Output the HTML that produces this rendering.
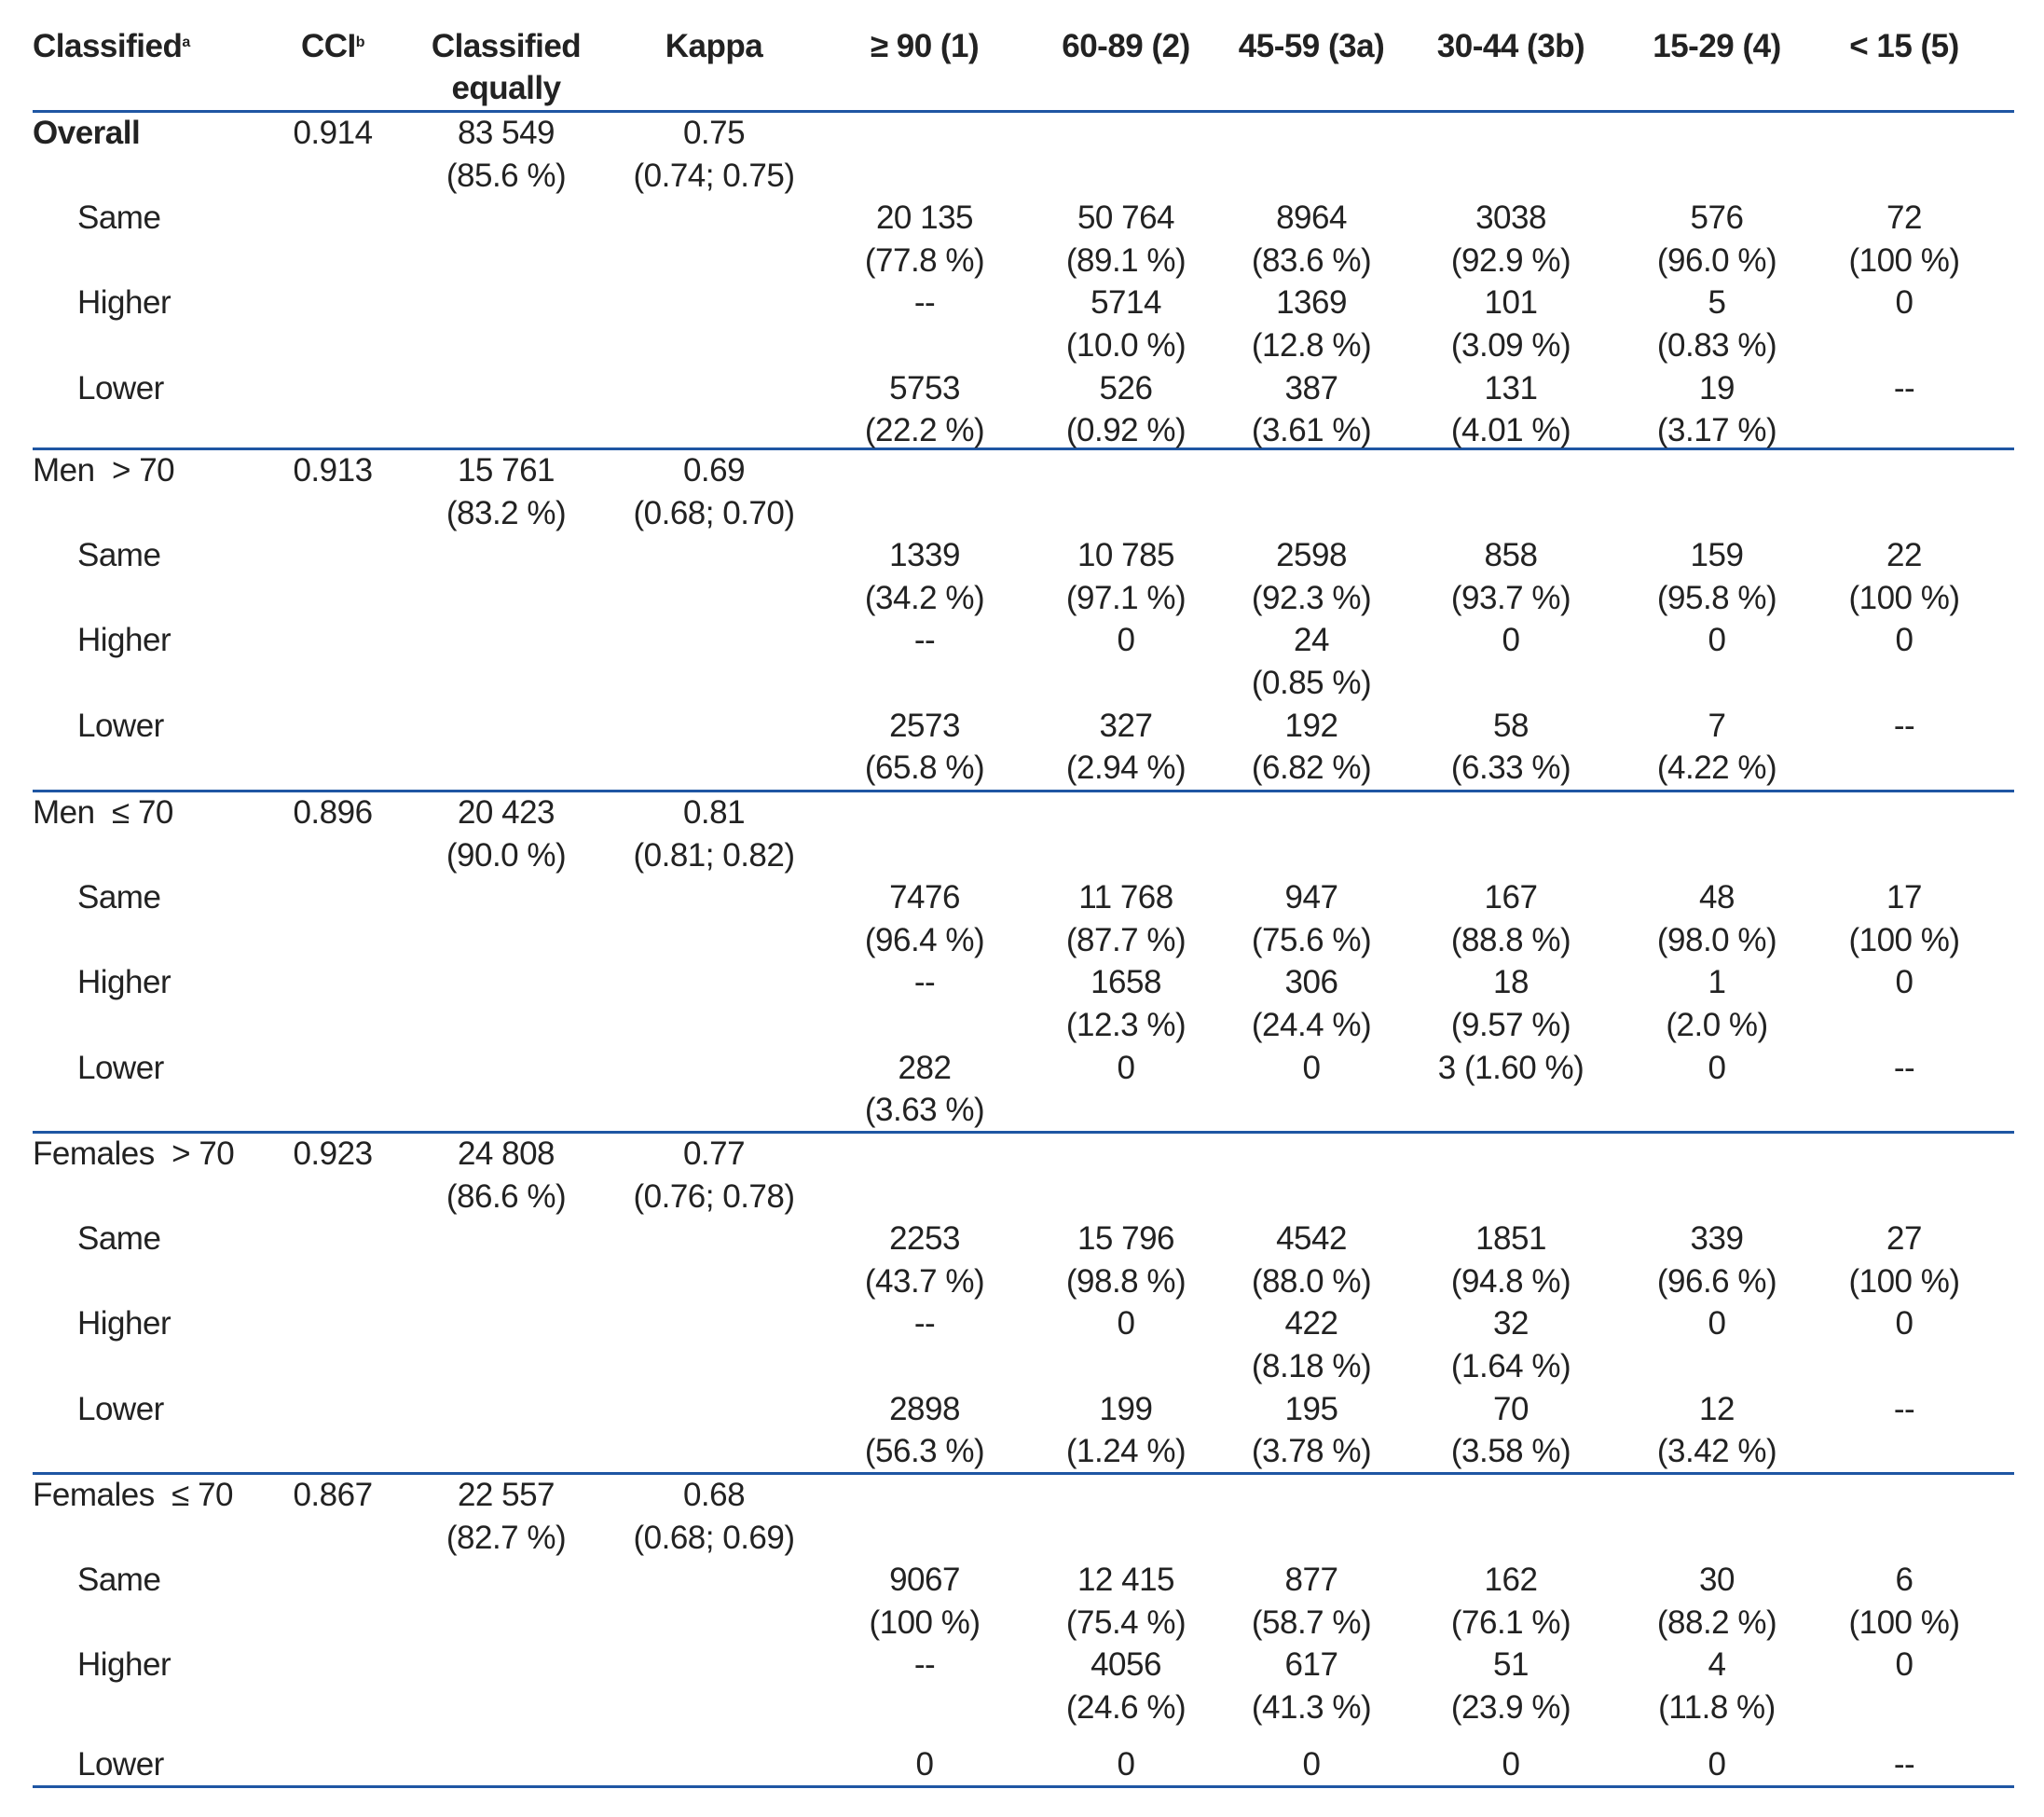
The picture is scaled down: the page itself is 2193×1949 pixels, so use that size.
<!DOCTYPE html>
<html><head><meta charset="utf-8">
<style>
html,body{margin:0;padding:0;background:#fff;}
#tbl{position:relative;width:2193px;height:1949px;overflow:hidden;font-family:"Liberation Sans",sans-serif;color:#222;}
.t{position:absolute;font-size:35px;line-height:40px;white-space:pre;transform:translate(-50%,-50%);letter-spacing:-0.5px;}
.l{position:absolute;font-size:35px;line-height:40px;white-space:pre;transform:translateY(-50%);letter-spacing:-0.5px;}
.b{font-weight:bold;}
.rule{position:absolute;left:35px;width:2126px;height:3px;background:#1f56a3;}
sup{font-size:16px;vertical-align:top;position:relative;top:-4px;}
</style></head><body>
<div id="tbl"></div>
<script>
const headers = ["CCI", "Classified|equally", "Kappa", "≥ 90 (1)", "60-89 (2)", "45-59 (3a)", "30-44 (3b)", "15-29 (4)", "< 15 (5)"];
const groupLabels = ["Overall", "Men  > 70", "Men  ≤ 70", "Females  > 70", "Females  ≤ 70"];
const cciValues = ["0.914", "0.913", "0.896", "0.923", "0.867"];
const equalValues = ["83 549|(85.6 %)", "15 761|(83.2 %)", "20 423|(90.0 %)", "24 808|(86.6 %)", "22 557|(82.7 %)"];
const kappaValues = ["0.75|(0.74; 0.75)", "0.69|(0.68; 0.70)", "0.81|(0.81; 0.82)", "0.77|(0.76; 0.78)", "0.68|(0.68; 0.69)"];
const sameValues = [
 ["20 135|(77.8 %)","50 764|(89.1 %)","8964|(83.6 %)","3038|(92.9 %)","576|(96.0 %)","72|(100 %)"],
 ["1339|(34.2 %)","10 785|(97.1 %)","2598|(92.3 %)","858|(93.7 %)","159|(95.8 %)","22|(100 %)"],
 ["7476|(96.4 %)","11 768|(87.7 %)","947|(75.6 %)","167|(88.8 %)","48|(98.0 %)","17|(100 %)"],
 ["2253|(43.7 %)","15 796|(98.8 %)","4542|(88.0 %)","1851|(94.8 %)","339|(96.6 %)","27|(100 %)"],
 ["9067|(100 %)","12 415|(75.4 %)","877|(58.7 %)","162|(76.1 %)","30|(88.2 %)","6|(100 %)"]];
const higherValues = [
 ["--","5714|(10.0 %)","1369|(12.8 %)","101|(3.09 %)","5|(0.83 %)","0"],
 ["--","0","24|(0.85 %)","0","0","0"],
 ["--","1658|(12.3 %)","306|(24.4 %)","18|(9.57 %)","1|(2.0 %)","0"],
 ["--","0","422|(8.18 %)","32|(1.64 %)","0","0"],
 ["--","4056|(24.6 %)","617|(41.3 %)","51|(23.9 %)","4|(11.8 %)","0"]];
const lowerValues = [
 ["5753|(22.2 %)","526|(0.92 %)","387|(3.61 %)","131|(4.01 %)","19|(3.17 %)","--"],
 ["2573|(65.8 %)","327|(2.94 %)","192|(6.82 %)","58|(6.33 %)","7|(4.22 %)","--"],
 ["282|(3.63 %)","0","0","3 (1.60 %)","0","--"],
 ["2898|(56.3 %)","199|(1.24 %)","195|(3.78 %)","70|(3.58 %)","12|(3.42 %)","--"],
 ["0","0","0","0","0","--"]];

const colX = [357, 543, 766, 992, 1208, 1407, 1621, 1842, 2043];
const ruleY = [119, 481, 848, 1214, 1580, 1916];
const pitch = 45.6;
const tbl = document.getElementById('tbl');

function txt(cls, x, y, s, name){
  const d = document.createElement('div');
  d.className = cls;
  d.style.left = x + 'px'; d.style.top = y + 'px';
  d.innerHTML = s;
  
  
  tbl.appendChild(d);
}
function cell(x, y, s, name){
  s.split('|').forEach((p, i) => txt('t', x, y + i * pitch, p, name));
}
txt('l b', 35, 50, 'Classified<sup>a</sup>', 'header-classified');
headers.forEach((h, i) => {
  let s = h;
  if (i === 0) s = 'CCI<sup>b</sup>';
  s.split('|').forEach((p, j) => txt('t b', colX[i], 50 + j * 45, p, 'header-' + i));
});
ruleY.forEach((y) => {
  const r = document.createElement('div');
  r.className = 'rule'; r.style.top = (y - 1) + 'px';
  
  
  tbl.appendChild(r);
});
const subNames = ['Same', 'Higher', 'Lower'];
const subData = [sameValues, higherValues, lowerValues];
groupLabels.forEach((g, k) => {
  const y0 = ruleY[k] + 24;
  txt('l' + (k === 0 ? ' b' : ''), 35, y0, g, 'group-label');
  cell(colX[0], y0, cciValues[k], 'cci-value');
  cell(colX[1], y0, equalValues[k], 'classified-equally-value');
  cell(colX[2], y0, kappaValues[k], 'kappa-value');
  subNames.forEach((sn, r) => {
    let y = y0 + (2 + r * 2) * pitch;
    if (k === 4 && r === 2) y = 1893;
    txt('l', 83, y, sn, 'sub-label-' + sn.toLowerCase());
    subData[r][k].forEach((v, c) => cell(colX[3 + c], y, v, 'stage-cell'));
  });
});
</script>
</body></html>
